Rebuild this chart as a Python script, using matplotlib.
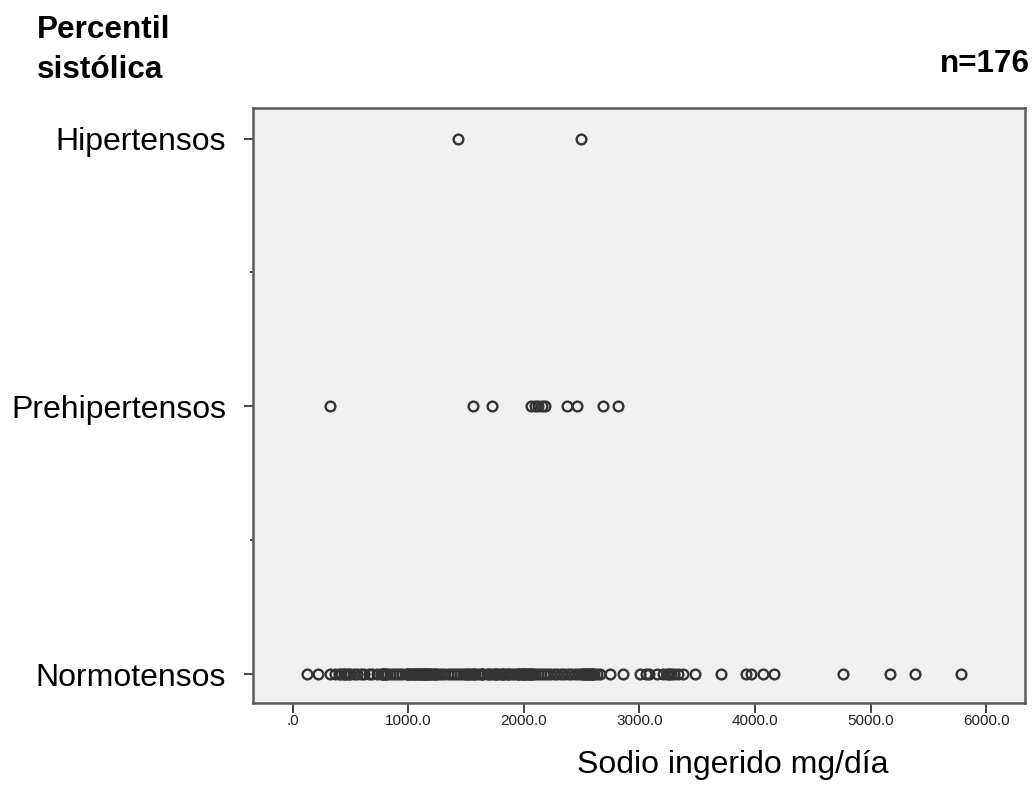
import matplotlib
matplotlib.use("Agg")
import matplotlib.pyplot as plt

categories = ["Normotensos", "Prehipertensos", "Hipertensos"]

normotensos = [126, 221, 323, 366,
               405, 420, 440, 455, 470, 490, 500,
               530, 560, 590, 620, 660, 690,
               730, 760, 780, 785, 800, 805, 815, 840, 870, 895,
               920, 950, 980, 995, 1000, 1010, 1025, 1030, 1040, 1055, 1060, 1070, 1085, 1090, 1095,
               1110, 1115, 1125, 1130, 1140, 1145, 1150, 1160, 1165, 1175, 1185, 1190, 1205, 1220, 1230, 1240, 1260, 1280,
               1310, 1340, 1370, 1400, 1420, 1450, 1470, 1490,
               1510, 1520, 1530, 1555, 1570, 1580, 1600, 1625, 1640, 1650, 1680,
               1700, 1710, 1730, 1750, 1760, 1770, 1790, 1810, 1820, 1830, 1850, 1860, 1875, 1895,
               1915, 1940, 1950, 1960, 1975, 1985, 1990, 2000, 2005, 2015, 2020, 2035, 2045, 2050, 2065, 2070, 2080, 2095,
               2120, 2150, 2175, 2200, 2230, 2260, 2290,
               2320, 2350, 2380, 2410, 2440, 2470, 2495,
               2515, 2520, 2530, 2540, 2545, 2555, 2560, 2575, 2580, 2590, 2600, 2610, 2630, 2658,
               2745, 2855, 3005, 3060, 3085, 3149, 3206, 3240, 3255, 3270, 3300, 3330, 3379, 3480,
               3705, 3924, 3967, 4071, 4164, 4758, 5167, 5383, 5781]
prehipertensos = [323, 1557, 1721, 2061, 2096, 2122, 2157, 2183, 2370, 2457, 2687, 2817]
hipertensos = [1431, 2490]

x_ticks = [0, 1000, 2000, 3000, 4000, 5000, 6000]
x_tick_labels = [".0", "1000.0", "2000.0", "3000.0", "4000.0", "5000.0", "6000.0"]

plt.rcParams['font.family'] = ['Liberation Sans', 'DejaVu Sans']

W, H = 1036, 797
fig = plt.figure(figsize=(W / 100, H / 100), dpi=100)
ax = fig.add_axes([253 / W, 1 - 703 / H, (1025 - 253) / W, (703 - 108) / H])
ax.set_facecolor('#f0f0f0')

groups = [normotensos, prehipertensos, hipertensos]
for i, vals in enumerate(groups):
    ax.plot(vals, [i] * len(vals), linestyle='none', marker='o', markersize=7,
            markerfacecolor='none', markeredgecolor='#333333', markeredgewidth=1.7)

ax.set_xlim(-343, 6335)
ax.set_ylim(-0.108, 2.114)
ax.set_xticks(x_ticks)
ax.set_xticklabels(x_tick_labels, fontsize=11, color='#222222')
ax.set_yticks([0, 1, 2])
ax.set_yticklabels(categories, fontsize=23)
ax.set_yticks([0.5, 1.5], minor=True)

ax.tick_params(axis='x', length=7, width=1.4, color='#444444', pad=1)
ax.tick_params(axis='y', which='major', length=6.5, width=1.4, color='#444444', pad=13)
ax.tick_params(axis='y', which='minor', length=2.2, width=1.4, color='#444444')

for s in ax.spines.values():
    s.set_color('#5a5a5a')
    s.set_linewidth(1.8)

fig.text(37 / W, 1 - 38 / H, "Percentil", fontsize=22.7, fontweight='bold', va='baseline', ha='left')
fig.text(37 / W, 1 - 78 / H, "sistólica", fontsize=22.7, fontweight='bold', va='baseline', ha='left')
fig.text(1030 / W, 1 - 72 / H, "n=176", fontsize=22.7, fontweight='bold', va='baseline', ha='right')
fig.text(733 / W, 1 - 765 / H, "Sodio ingerido mg/día", fontsize=23, va='center', ha='center')

fig.savefig("out.png", dpi=100)
